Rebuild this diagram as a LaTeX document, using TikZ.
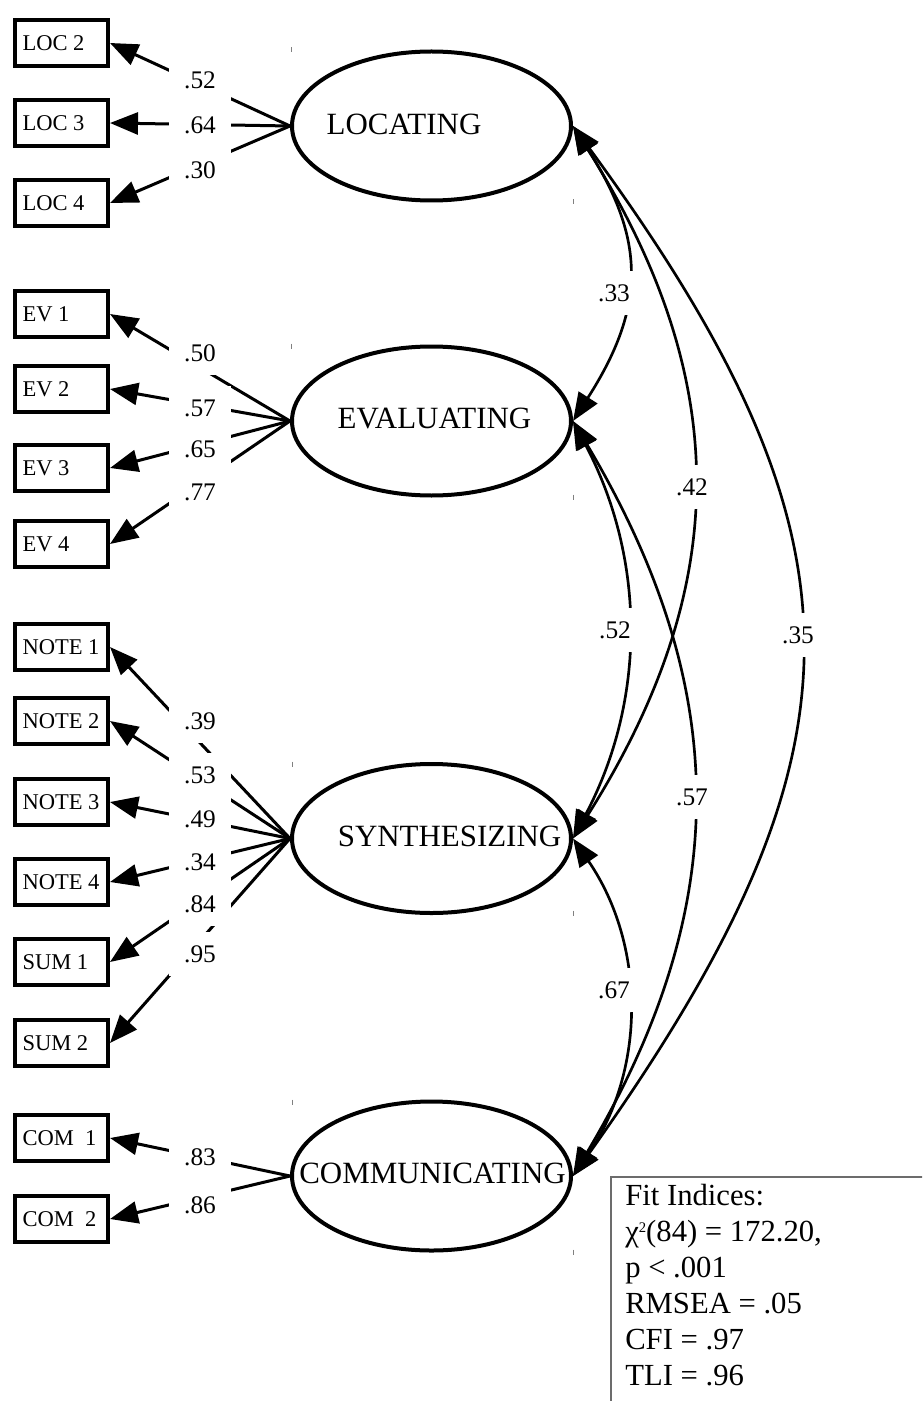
\documentclass[tikz,border=0pt]{standalone}
\usepackage{fontspec}
\setmainfont{Liberation Serif}
\usetikzlibrary{arrows.meta,shapes.geometric}
\newcommand\obstxt[1]{\makebox[58.5pt][l]{#1}}
\begin{document}
\begin{tikzpicture}[x=0.75pt,y=-0.75pt,
  obs/.style={draw,line width=3pt,rectangle,minimum height=34.5pt,minimum width=69.75pt,inner xsep=5.6pt,inner ysep=0pt,font=\fontsize{16.9pt}{19pt}\selectfont},
  latent/.style={draw,ellipse,line width=3pt,minimum width=209.25pt,minimum height=111.75pt,inner sep=0pt},
  lattext/.style={font=\fontsize{23.2pt}{26pt}\selectfont,inner sep=0pt},
  load/.style={line width=2.25pt,-{Triangle[length=21pt,width=16.5pt]}},
  cov/.style={line width=2pt,{Triangle[length=21pt,width=16.5pt]}-{Triangle[length=21pt,width=16.5pt]}},
  lab/.style={fill=white,inner sep=0pt,minimum width=46.5pt,minimum height=33pt,font=\fontsize{19pt}{21pt}\selectfont},
  tickmark/.style={draw=gray,line width=0.75pt},
  fitbox/.style={draw=gray!85!black,line width=1.2pt},
  fittext/.style={anchor=north west,inner sep=0pt,align=left,font=\fontsize{23pt}{27pt}\selectfont}
]
\useasboundingbox (0,0) rectangle (922,1401);
\clip (0,0) rectangle (922,1401);

% observed boxes
\node[obs] (loc2) at (61.5,43) {\obstxt{LOC 2}};
\node[obs] (loc3) at (61.5,123) {\obstxt{LOC 3}};
\node[obs] (loc4) at (61.5,203) {\obstxt{LOC 4}};
\node[obs] (ev1) at (61.5,314) {\obstxt{EV 1}};
\node[obs] (ev2) at (61.5,389) {\obstxt{EV 2}};
\node[obs] (ev3) at (61.5,468) {\obstxt{EV 3}};
\node[obs] (ev4) at (61.5,544) {\obstxt{EV 4}};
\node[obs] (n1) at (61.5,647) {\obstxt{NOTE 1}};
\node[obs] (n2) at (61.5,721) {\obstxt{NOTE 2}};
\node[obs] (n3) at (61.5,802) {\obstxt{NOTE 3}};
\node[obs] (n4) at (61.5,882) {\obstxt{NOTE 4}};
\node[obs] (s1) at (61.5,962) {\obstxt{SUM 1}};
\node[obs] (s2) at (61.5,1043) {\obstxt{SUM 2}};
\node[obs] (c1) at (61.5,1138) {\obstxt{COM~~1}};
\node[obs] (c2) at (61.5,1219) {\obstxt{COM~~2}};

% latent ellipses
\node[latent] (LOC) at (431.5,126) {};
\node[latent] (EV) at (431.5,421) {};
\node[latent] (SYN) at (431.5,838.5) {};
\node[latent] (COM) at (431.5,1176) {};
\node[lattext] at (404,124) {LOCATING};
\node[lattext] at (434.5,418.5) {EVALUATING};
\node[lattext] at (449.5,836) {SYNTHESIZING};
\node[lattext] at (432.5,1173.5) {COMMUNICATING};

% tick marks
\foreach \a/\b in {291/50, 573/202, 291/346, 573/497, 292/764, 573/913, 292/1102, 573/1252}
  \draw[tickmark] (\a,\b-2.5) -- (\a,\b+2.5);

% loadings
\draw[load] (LOC.west) -- (loc2.east);
\draw[load] (LOC.west) -- (loc3.east);
\draw[load] (LOC.west) -- (loc4.east);
\draw[load] (EV.west) -- (ev1.east);
\draw[load] (EV.west) -- (ev2.east);
\draw[load] (EV.west) -- (ev3.east);
\draw[load] (EV.west) -- (ev4.east);
\draw[load] (SYN.west) -- (n1.east);
\draw[load] (SYN.west) -- (n2.east);
\draw[load] (SYN.west) -- (n3.east);
\draw[load] (SYN.west) -- (n4.east);
\draw[load] (SYN.west) -- (s1.east);
\draw[load] (SYN.west) -- (s2.east);
\draw[load] (COM.west) -- (c1.east);
\draw[load] (COM.west) -- (c2.east);

% covariances
\draw[cov] (LOC.east) .. controls (646,240) and (646,307) .. (EV.east);
\draw[cov] (EV.east) .. controls (646,560) and (646,700) .. (SYN.east);
\draw[cov] (SYN.east) .. controls (646,945) and (646,1070) .. (COM.east);
\draw[cov] (LOC.east) .. controls (733,380) and (733,585) .. (SYN.east);
\draw[cov] (EV.east) .. controls (733,690) and (733,907) .. (COM.east);
\draw[cov] (LOC.east) .. controls (876,540) and (876,750) .. (COM.east);

% loading labels
\node[lab] (l1) at (200,80) {.52};
\node[lab] (l2) at (200,125) {.64};
\node[lab] (l3) at (200,170) {.30};
\node[lab] (l4) at (200,353) {.50};
\node[lab] (l5) at (200,408) {.57};
\node[lab] (l6) at (200,449) {.65};
\node[lab] (l7) at (200,492) {.77};
\node[lab] (l8) at (200,721) {.39};
\node[lab] (l9) at (200,775) {.53};
\node[lab] (l10) at (200,819) {.49};
\node[lab] (l11) at (200,862) {.34};
\node[lab] (l12) at (200,904) {.84};
\node[lab] (l13) at (200,954) {.95};
\node[lab] (l14) at (200,1157) {.83};
\node[lab] (l15) at (200,1205) {.86};

% covariance labels
\node[lab] (k1) at (614,293) {.33};
\node[lab] (k2) at (692,487) {.42};
\node[lab] (k3) at (615,630) {.52};
\node[lab] (k4) at (798,635) {.35};
\node[lab] (k5) at (692,797) {.57};
\node[lab] (k6) at (614,990) {.67};

% fit indices
\draw[fitbox] (611,1177) rectangle (960,1440);
\node[fittext] (fit) at (625,1184) {Fit Indices:\\χ\raisebox{7pt}{\fontsize{11pt}{11pt}\selectfont 2}(84) = 172.20,\\p < .001\\RMSEA = .05\\CFI = .97\\TLI = .96};
\end{tikzpicture}
\end{document}
